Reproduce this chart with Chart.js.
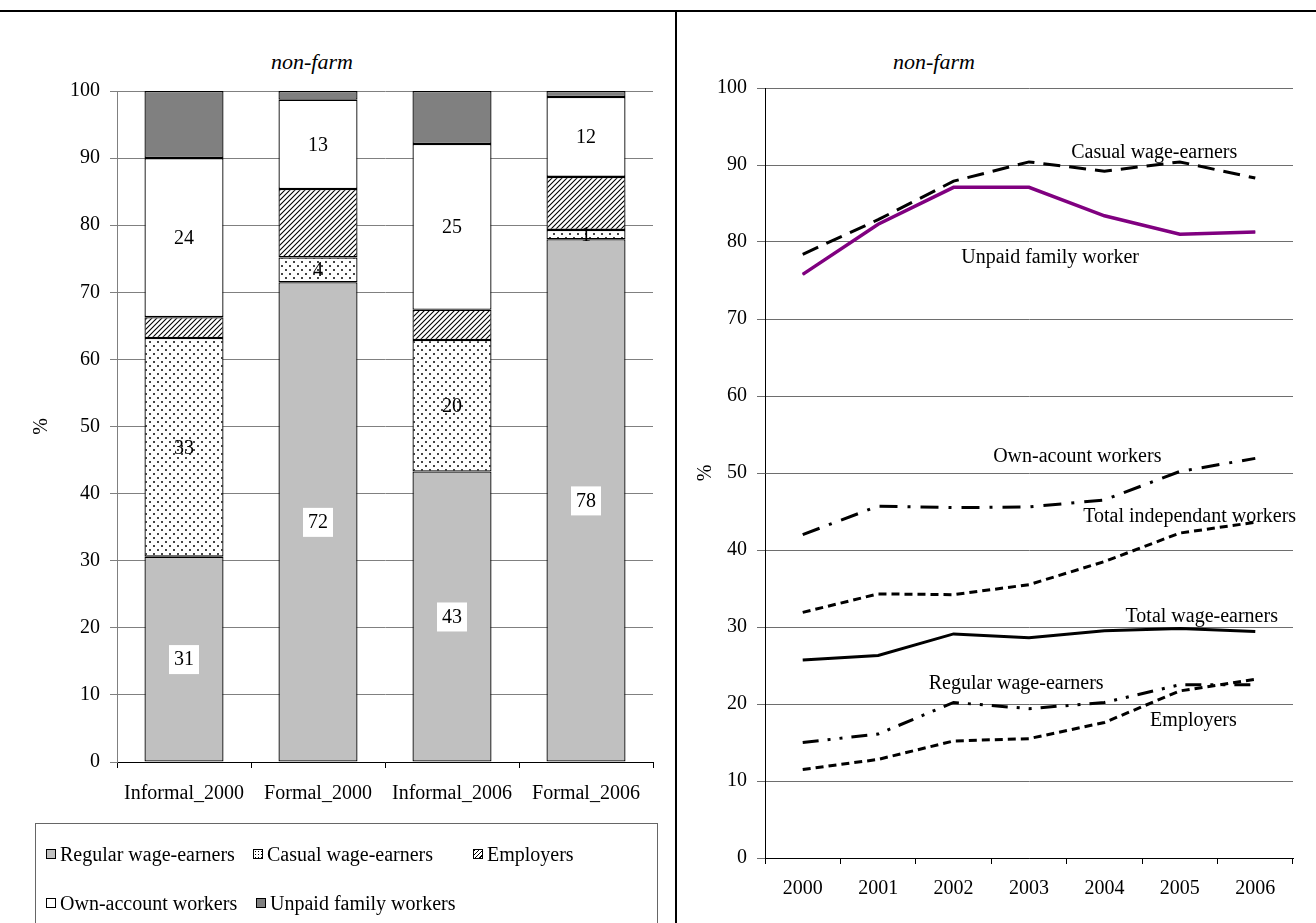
<!DOCTYPE html>
<html lang="en">
<head>
<meta charset="UTF-8" />
<title>Non-farm employment by status</title>
<script src="https://cdn.jsdelivr.net/npm/chart.js"></script>
<style>
  * { box-sizing: border-box; margin: 0; padding: 0; }
  body {
    width: 1316px; height: 923px; position: relative; overflow: hidden;
    background: #fff; color: #000;
    font-family: "Liberation Serif", "Times New Roman", serif;
  }
  .rule-top { position: absolute; left: 0; top: 10px; width: 1316px; height: 2px; background: #000; }
  .rule-mid { position: absolute; left: 675px; top: 10px; width: 2px; height: 913px; background: #000; }
  #barChart { position: absolute; left: 0; top: 0; }
  #lineChart { position: absolute; left: 677px; top: 0; }
  .panel-title {
    position: absolute; top: 49px; width: 160px; margin-left: -80px;
    text-align: center; font-style: italic; font-size: 22px; line-height: 26px;
  }
  .legend {
    position: absolute; left: 35px; top: 823px; width: 623px; height: 120px;
    border: 1px solid #666;
  }
  .legend-item {
    position: absolute; font-size: 20px; line-height: 24px; white-space: nowrap;
    display: flex; align-items: center;
  }
  .swatch { width: 10px; height: 10px; border: 1px solid #000; margin-right: 4px; }
</style>
</head>
<body>
  <div class="rule-top"></div>
  <div class="rule-mid"></div>
  <div class="panel-title" style="left:312px">non-farm</div>
  <div class="panel-title" style="left:934px">non-farm</div>
  <canvas id="barChart" width="675" height="923"></canvas>
  <canvas id="lineChart" width="639" height="923"></canvas>
  <div class="legend" id="barLegend"></div>

<script>
  // left panel: composition of non-farm jobs (%)
  const categories = ["Informal_2000", "Formal_2000", "Informal_2006", "Formal_2006"];
  const regularShare = [30.6, 71.5, 43.3, 77.9];
  const casualShare = [32.6, 3.7, 19.6, 1.4];
  const employerShare = [3.1, 10.2, 4.5, 7.9];
  const ownAccountShare = [23.7, 13.3, 24.7, 11.9];
  const unpaidShare = [10.0, 1.3, 7.9, 0.9];

  // right panel: share in non-farm (%) by status, 2000-2006
  const years = ["2000", "2001", "2002", "2003", "2004", "2005", "2006"];
  const casualLine = [78.4, 82.9, 87.9, 90.4, 89.2, 90.4, 88.3];
  const unpaidLine = [75.8, 82.3, 87.1, 87.1, 83.4, 81.0, 81.3];
  const ownAccountLine = [42.0, 45.7, 45.5, 45.6, 46.5, 50.2, 51.9];
  const independentLine = [31.9, 34.3, 34.2, 35.5, 38.5, 42.2, 43.6];
  const wageLine = [25.7, 26.3, 29.1, 28.6, 29.5, 29.8, 29.4];
  const regularLine = [15.0, 16.1, 20.2, 19.4, 20.2, 22.5, 22.5];
  const employerLine = [11.5, 12.8, 15.2, 15.5, 17.6, 21.7, 23.2];

  const SERIF = '"Liberation Serif", "Times New Roman", serif';
  Chart.defaults.font.family = SERIF;
  Chart.defaults.font.size = 20;
  Chart.defaults.color = "#000";

  // sparse staggered dots, like the casual wage-earner fill
  function dotPattern(ctx) {
    const c = document.createElement("canvas");
    c.width = 8; c.height = 8;
    const g = c.getContext("2d");
    g.fillStyle = "#fff"; g.fillRect(0, 0, 8, 8);
    g.fillStyle = "#444";
    g.fillRect(1, 1, 2, 2);
    g.fillRect(5, 5, 2, 2);
    return ctx.createPattern(c, "repeat");
  }

  function hatchPattern(ctx) {
    const s = 5;
    const c = document.createElement("canvas");
    c.width = s; c.height = s;
    const g = c.getContext("2d");
    g.fillStyle = "#fff"; g.fillRect(0, 0, s, s);
    g.strokeStyle = "#000"; g.lineWidth = 1.1;
    g.beginPath();
    g.moveTo(0, s); g.lineTo(s, 0);
    g.moveTo(-1, 1); g.lineTo(1, -1);
    g.moveTo(s - 1, s + 1); g.lineTo(s + 1, s - 1);
    g.stroke();
    return ctx.createPattern(c, "repeat");
  }

  const barCtx = document.getElementById("barChart").getContext("2d");
  const dots = dotPattern(barCtx);
  const hatch = hatchPattern(barCtx);

  // numbers written inside the bars
  const barValues = {
    id: "barValues",
    afterDatasetsDraw(chart) {
      const ctx = chart.ctx;
      ctx.save();
      ctx.font = "20px " + SERIF;
      ctx.textAlign = "center";
      ctx.textBaseline = "middle";
      chart.data.datasets.forEach((ds, i) => {
        if (!ds.valueLabel) return;
        chart.getDatasetMeta(i).data.forEach((bar, j) => {
          const txt = String(Math.round(ds.data[j]));
          const y = (bar.y + bar.base) / 2;
          if (ds.valueLabel === "boxed") {
            const w = ctx.measureText(txt).width + 10;
            ctx.fillStyle = "#fff";
            ctx.fillRect(bar.x - w / 2, y - 14, w, 29);
          }
          ctx.fillStyle = "#000";
          ctx.fillText(txt, bar.x, y + 1);
        });
      });
      ctx.restore();
    }
  };

  new Chart(barCtx, {
    type: "bar",
    data: {
      labels: categories,
      datasets: [
        { label: "Regular wage-earners", data: regularShare, backgroundColor: "#c0c0c0", valueLabel: "boxed" },
        { label: "Casual wage-earners", data: casualShare, backgroundColor: dots, valueLabel: "plain" },
        { label: "Employers", data: employerShare, backgroundColor: hatch },
        { label: "Own-account workers", data: ownAccountShare, backgroundColor: "#fff", valueLabel: "plain" },
        { label: "Unpaid family workers", data: unpaidShare, backgroundColor: "#808080" }
      ].map(d => Object.assign(d, {
        borderColor: "#000", borderWidth: 1.3, borderSkipped: false,
        barPercentage: 0.59, categoryPercentage: 1
      }))
    },
    options: {
      responsive: false,
      animation: false,
      devicePixelRatio: 1,
      layout: { padding: { top: 91, right: 22, left: 0, bottom: 0 } },
      plugins: { legend: { display: false }, tooltip: { enabled: false } },
      scales: {
        x: {
          stacked: true,
          grid: { offset: true, drawOnChartArea: false, tickLength: 6, color: "#000" },
          border: { color: "#000" },
          ticks: { padding: 14, maxRotation: 0 },
          afterFit: s => { s.height = 923 - 762; }
        },
        y: {
          stacked: true, min: 0, max: 100,
          ticks: { stepSize: 10, padding: 10 },
          grid: { color: "#808080", tickLength: 7 },
          border: { color: "#808080" },
          title: { display: true, text: "%", padding: { top: 30, bottom: 0 } },
          afterFit: s => { s.width = 117; }
        }
      }
    },
    plugins: [barValues]
  });

  // html legend for the bar panel
  const legendItems = [
    { text: "Regular wage-earners", swatch: "background:#c0c0c0", left: 10, top: 18 },
    { text: "Casual wage-earners", swatch: "background:#fff radial-gradient(circle, #000 0.6px, transparent 0.8px) 0 0/3px 3px", left: 217, top: 18 },
    { text: "Employers", swatch: "background:repeating-linear-gradient(135deg, #000 0 1px, #fff 1px 3px)", left: 437, top: 18 },
    { text: "Own-account workers", swatch: "background:#fff", left: 10, top: 67 },
    { text: "Unpaid family workers", swatch: "background:#808080", left: 220, top: 67 }
  ];
  const legendBox = document.getElementById("barLegend");
  legendItems.forEach(it => {
    const el = document.createElement("div");
    el.className = "legend-item";
    el.style.left = it.left + "px";
    el.style.top = it.top + "px";
    el.innerHTML = '<span class="swatch" style="' + it.swatch + '"></span><span></span>';
    el.lastChild.textContent = it.text;
    legendBox.appendChild(el);
  });

  // right panel: names written next to each line
  const lineNotes = [
    { text: "Casual wage-earners", at: [4.66, 91.6] },
    { text: "Unpaid family worker", at: [3.28, 77.9] },
    { text: "Own-acount workers", at: [3.64, 52.1] },
    { text: "Total independant workers", at: [5.13, 44.3] },
    { text: "Total wage-earners", at: [5.29, 31.3] },
    { text: "Regular wage-earners", at: [2.83, 22.6] },
    { text: "Employers", at: [5.18, 17.8] }
  ];
  const lineNames = {
    id: "lineNames",
    afterDatasetsDraw(chart) {
      const ctx = chart.ctx;
      const sx = chart.scales.x, sy = chart.scales.y;
      ctx.save();
      ctx.font = "20px " + SERIF;
      ctx.fillStyle = "#000";
      ctx.textAlign = "center";
      ctx.textBaseline = "middle";
      lineNotes.forEach(n => {
        ctx.fillText(n.text, sx.getPixelForValue(n.at[0]), sy.getPixelForValue(n.at[1]));
      });
      ctx.restore();
    }
  };

  function series(label, data, dash, color, width) {
    return {
      label, data,
      borderColor: color || "#000",
      borderWidth: width || 3,
      borderDash: dash,
      pointRadius: 0,
      tension: 0,
      fill: false
    };
  }

  new Chart(document.getElementById("lineChart"), {
    type: "line",
    data: {
      labels: years,
      datasets: [
        series("Casual wage-earners", casualLine, [17, 9]),
        series("Unpaid family worker", unpaidLine, [], "#800080", 3.5),
        series("Unpaid family worker (inner)", unpaidLine, [4, 3], "#000", 1),
        series("Own-acount workers", ownAccountLine, [18, 10, 3, 10]),
        series("Total independant workers", independentLine, [8, 5]),
        series("Total wage-earners", wageLine, []),
        series("Regular wage-earners", regularLine, [16, 9, 3, 9, 3, 9]),
        series("Employers", employerLine, [8, 5])
      ]
    },
    options: {
      responsive: false,
      animation: false,
      devicePixelRatio: 1,
      layout: { padding: { top: 88, right: 23, left: 0, bottom: 0 } },
      plugins: { legend: { display: false }, tooltip: { enabled: false } },
      scales: {
        x: {
          offset: true,
          grid: { offset: true, drawOnChartArea: false, tickLength: 6, color: "#000" },
          border: { color: "#000" },
          ticks: { padding: 13, maxRotation: 0 },
          afterFit: s => { s.height = 923 - 858; }
        },
        y: {
          min: 0, max: 100,
          ticks: { stepSize: 10, padding: 10 },
          grid: { color: "#6e6e6e", tickLength: 8 },
          border: { color: "#000" },
          title: { display: true, text: "%", padding: { top: 17, bottom: 0 } },
          afterFit: s => { s.width = 88; }
        }
      }
    },
    plugins: [lineNames]
  });
</script>
</body>
</html>
